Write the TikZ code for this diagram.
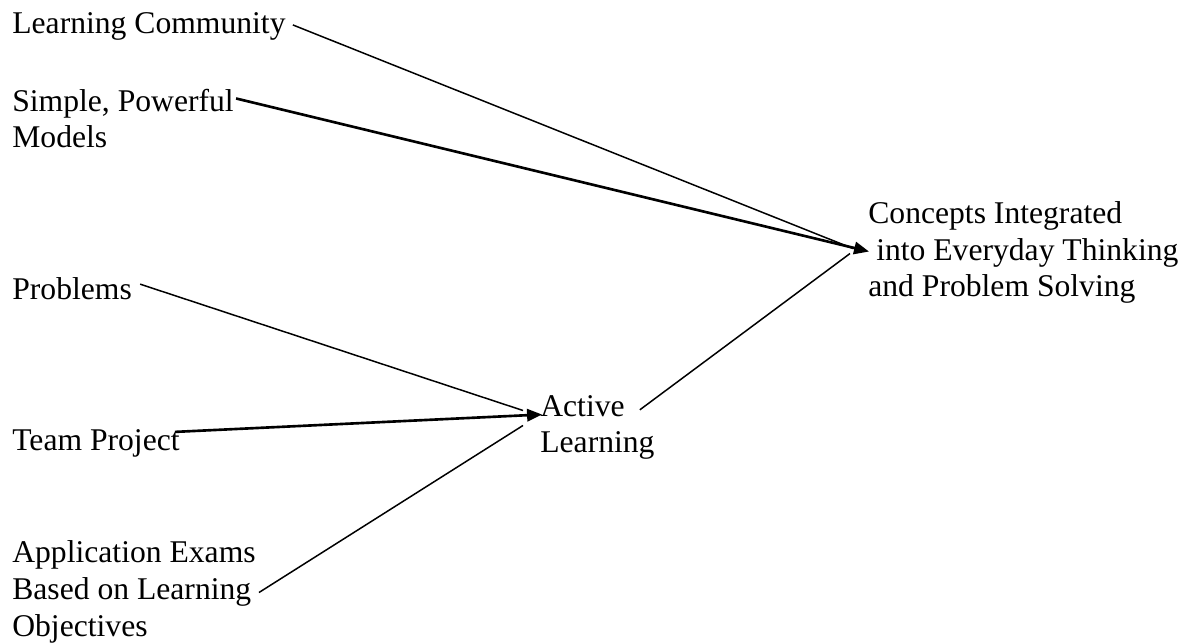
\documentclass[tikz,border=0pt]{standalone}
\usepackage{fontspec}
\setmainfont{Liberation Serif}
\usetikzlibrary{arrows.meta,calc}
\begin{document}
\begin{tikzpicture}
		[x=0.02cm, y=-0.02cm,
		every node/.style={inner sep=0pt, align=left, anchor=base west, font=\fontsize{18}{21}\selectfont},
		link/.style={line width=0.85pt},
		mainlink/.style={line width=1.5pt, -{Triangle[length=8.5pt, width=7pt]}}]
		\useasboundingbox (0,0) rectangle (1189,644);
		% base anchor sits on the last line
		\node (community) at (12,34) {Learning Community};
		\node (models) at (12,148) {Simple, Powerful\\Models};
		\node (problems) at (12,300) {Problems};
		\node (project) at (12,451) {Team Project};
		\node (exams) at (12,636) {Application Exams\\Based on Learning\\Objectives};
		\node (active) at (540,453) {Active\\Learning};
		\node (concepts) at (868,297) {Concepts Integrated\\\ into Everyday Thinking\\and Problem Solving};
		
		\coordinate (activein) at ($(active.west)+(2,-13)$);
		\coordinate (conceptsin) at ($(concepts.west)+(1,-1)$);
		
		\draw[link] ($(community.east)+(7,-2)$) -- ($(conceptsin)+(-16,-3)$);
		\draw[mainlink] ($(models.north east)+(2,10)$) -- (conceptsin);
		\draw[link] ($(active.north east)+(-15,15)$) -- ($(conceptsin)+(-19,2)$);
		
		\draw[link] ($(problems.east)+(8,-5)$) -- ($(activein)+(-19,-4)$);
		\draw[mainlink] ($(project.east)+(-5,-12)$) -- (activein);
		\draw[link] ($(exams.east)+(3,1)$) -- ($(activein)+(-19,11)$);
\end{tikzpicture}
\end{document}
